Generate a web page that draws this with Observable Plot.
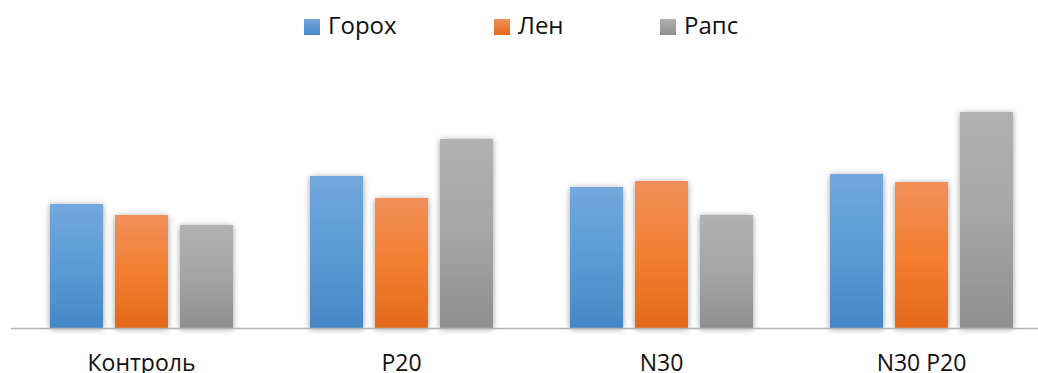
<!DOCTYPE html>
<html>
<head>
<meta charset="utf-8">
<script src="https://cdn.jsdelivr.net/npm/d3@7"></script>
<script src="https://cdn.jsdelivr.net/npm/@observablehq/plot@0.6"></script>
<style>
  html, body { margin: 0; padding: 0; background: #fff; }
  #wrap { position: relative; width: 1038px; height: 373px; overflow: hidden; font-family: "Open Sans", Lato, sans-serif; }
  #legend { position: absolute; top: 0; left: 0; width: 1038px; height: 50px; font-size: 24px; color: #111; line-height: 1; }
  #legend .item { position: absolute; top: 12.5px; display: flex; align-items: center; }
  #legend .sw { width: 16px; height: 16px; margin-right: 8px; margin-top: 5px; }
  svg g[aria-label="bar"] { filter: drop-shadow(0px 1px 3px rgba(0,0,0,0.38)); }
</style>
</head>
<body>
<div id="wrap">
  <div id="chart"></div>
  <div id="legend"></div>
</div>
<script>
const categories = ["Контроль", "P20", "N30", "N30 P20"];
const series = ["Горох", "Лен", "Рапс"];
const gorokh = [12.4, 15.2, 14.1, 15.4];
const len    = [11.3, 13.0, 14.7, 14.6];
const raps   = [10.3, 18.9, 11.3, 21.6];
const gradientIds = ["gBlue", "gOrange", "gGray"];
const gradientStops = [
  ["#72a8dd", "#5b9bd5", "#4587c7"],
  ["#f18f5a", "#f37f30", "#e3691a"],
  ["#b1b1b1", "#a5a5a5", "#8f8f8f"]
];
const legendLeft = [304, 494, 660];

const valuesBySeries = [gorokh, len, raps];
const data = [];
categories.forEach((c, i) => {
  series.forEach((s, j) => {
    data.push({cat: c, series: s, value: valuesBySeries[j][i], grad: `url(#${gradientIds[j]})`});
  });
});

const chart = Plot.plot({
  width: 1038,
  height: 373,
  marginTop: 78,
  marginBottom: 45,
  marginLeft: 11,
  marginRight: 0,
  style: {fontFamily: "'Open Sans', Lato, sans-serif", background: "transparent"},
  fx: {domain: categories, range: [11, 1051], padding: 0, label: null},
  x: {domain: series, paddingInner: 12/65, paddingOuter: 0.592, axis: null},
  y: {domain: [0, 25], axis: null},
  color: {type: "identity"},
  marks: [
    Plot.barY(data, {fx: "cat", x: "series", y: "value", fill: "grad"}),
    Plot.ruleY([0], {stroke: "#b4b4b4", strokeWidth: 1.3}),
    Plot.axisFx({anchor: "bottom", tickSize: 0, tickPadding: 26, fontSize: 23, fill: "#111", label: null})
  ]
});

// gradient definitions
const svg = d3.select(chart);
const defs = svg.insert("defs", ":first-child");
gradientIds.forEach((id, k) => {
  const g = defs.append("linearGradient").attr("id", id)
    .attr("x1", 0).attr("y1", 0).attr("x2", 0).attr("y2", 1);
  const st = gradientStops[k];
  g.append("stop").attr("offset", "0%").attr("stop-color", st[0]);
  g.append("stop").attr("offset", "50%").attr("stop-color", st[1]);
  g.append("stop").attr("offset", "100%").attr("stop-color", st[2]);
});

document.getElementById("chart").appendChild(chart);

// legend
const leg = d3.select("#legend");
series.forEach((s, j) => {
  const it = leg.append("div").attr("class", "item").style("left", legendLeft[j] + "px");
  it.append("div").attr("class", "sw")
    .style("background", `linear-gradient(${gradientStops[j][0]}, ${gradientStops[j][2]})`);
  it.append("div").attr("class", "lab").text(s);
});
</script>
</body>
</html>
